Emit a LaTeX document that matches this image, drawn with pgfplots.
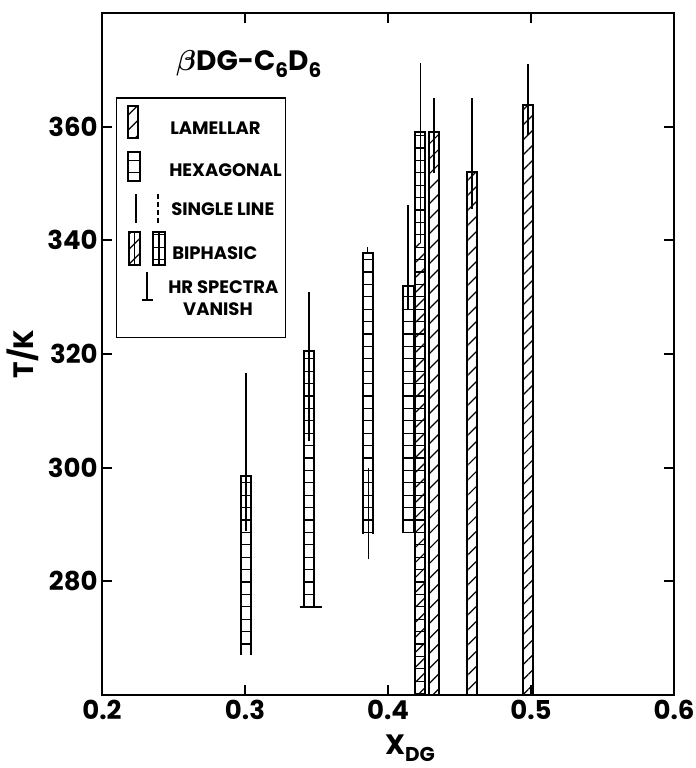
\documentclass[border=0pt]{standalone}
\usepackage{amsmath}
\usepackage{pgfplots}
\pgfplotsset{compat=1.18}
\usetikzlibrary{patterns.meta}
\usepackage{fontspec}
\setmainfont{Poppins}
\tikzset{
  lampat/.style={draw=none,pattern={Lines[angle=45,distance=5.3pt,line width=0.6pt]}},
  hexpat/.style={draw=none,pattern={Lines[angle=0,distance=6.2pt,line width=0.6pt]}},
  barline/.style={black,line width=1.0pt},
  sline/.style={black,line width=0.9pt},
}
% xl, xr, ybottom, ytop
\newcommand{\hexfill}[4]{\addplot[hexpat] coordinates {(#1,#3) (#2,#3) (#2,#4) (#1,#4)} -- cycle;}
\newcommand{\lamfill}[4]{\addplot[lampat] coordinates {(#1,#3) (#2,#3) (#2,#4) (#1,#4)} -- cycle;}
\newcommand{\openbar}[4]{\addplot[barline] coordinates {(#1,#3) (#1,#4) (#2,#4) (#2,#3)};}
\newcommand{\closedbar}[4]{\addplot[barline] coordinates {(#1,#3) (#2,#3) (#2,#4) (#1,#4)} -- cycle;}
% x, ybottom, ytop
\newcommand{\sline}[3]{\addplot[sline] coordinates {(#1,#2) (#1,#3)};}
\begin{document}
\begin{tikzpicture}
\useasboundingbox (-51pt,-36.5pt) rectangle (297pt,347.5pt);
\begin{axis}[
  at={(0pt,0pt)}, anchor=south west,
  scale only axis, width=286pt, height=341pt,
  xmin=0.2, xmax=0.6, ymin=260, ymax=380,
  xtick={0.2,0.3,0.4,0.5,0.6},
  xticklabels={0.2,0.3,0.4,0.5,0.6},
  ytick={280,300,320,340,360},
  yticklabels={280,300,320,340,360},
  tick align=inside,
  major tick length=5pt,
  axis line style={line width=1.2pt},
  tick style={line width=1pt, black},
  ticklabel style={font=\fontsize{13}{15}\selectfont\bfseries},
  xticklabel style={yshift=1pt},
  yticklabel style={inner sep=0pt, xshift=-2pt},
  xlabel={X\raisebox{-0.45ex}{\fontsize{10}{10}\selectfont\bfseries DG}},
  x label style={font=\fontsize{14}{16}\selectfont\bfseries, xshift=11pt, yshift=-0.5pt},
  ylabel={T/K},
  y label style={font=\fontsize{14}{16}\selectfont\bfseries, yshift=1pt},
]
% ---- bar A (x = 0.300), hexagonal
\hexfill{0.2970}{0.3040}{267.1}{298.5}
\openbar{0.2970}{0.3040}{267.1}{298.5}
\sline{0.3005}{288.8}{316.7}
% ---- bar B (x = 0.345), hexagonal, HR spectra vanish
\hexfill{0.3415}{0.3485}{275.5}{320.6}
\openbar{0.3415}{0.3485}{275.5}{320.6}
\addplot[black,line width=1.3pt] coordinates {(0.3382,275.5) (0.3536,275.5)};
\sline{0.3450}{304.7}{330.9}
% ---- bar C (x = 0.386), hexagonal
\hexfill{0.3822}{0.3892}{288.3}{337.8}
\openbar{0.3822}{0.3892}{288.3}{337.8}
\sline{0.3857}{337.8}{338.9}
\sline{0.3864}{283.9}{300.0}
% ---- bar D (x = 0.415), hexagonal
\hexfill{0.4108}{0.4185}{288.5}{332.0}
\openbar{0.4108}{0.4185}{288.5}{332.0}
\sline{0.4138}{327.7}{346.3}
% ---- bar E (x = 0.423), hexagonal + lamellar
\hexfill{0.4192}{0.4262}{260}{359.1}
\lamfill{0.4192}{0.4262}{260}{339.5}
\openbar{0.4192}{0.4262}{260}{359.1}
\sline{0.4227}{339.5}{371.2}
% ---- bar F (x = 0.432), lamellar
\lamfill{0.4285}{0.4360}{260}{359.1}
\openbar{0.4285}{0.4360}{260}{359.1}
\sline{0.4322}{351.9}{365.0}
% ---- bar G (x = 0.459), lamellar
\lamfill{0.4555}{0.4625}{260}{352.0}
\openbar{0.4555}{0.4625}{260}{352.0}
\sline{0.4590}{345.6}{365.0}
% ---- bar H (x = 0.498), lamellar
\lamfill{0.4946}{0.5016}{260}{363.8}
\openbar{0.4946}{0.5016}{260}{363.8}
\sline{0.4981}{358.5}{371.1}
% ---- title
\node[font=\fontsize{14}{16}\selectfont\bfseries] at (axis cs:0.3026,371.0)
  {$\boldsymbol{\beta}$DG-C\raisebox{-0.45ex}{\fontsize{10}{10}\selectfont\bfseries 6}D\raisebox{-0.45ex}{\fontsize{10}{10}\selectfont\bfseries 6}};
% ---- legend box
\addplot[black,line width=0.8pt] coordinates {(0.2102,365.0) (0.3282,365.0) (0.3282,322.9) (0.2102,322.9)} -- cycle;
% lamellar icon
\lamfill{0.2182}{0.2252}{358.0}{363.6}
\closedbar{0.2182}{0.2252}{358.0}{363.6}
% hexagonal icon
\hexfill{0.2182}{0.2266}{350.5}{355.6}
\closedbar{0.2182}{0.2266}{350.5}{355.6}
% single line icons
\sline{0.2235}{343.1}{348.1}
\addplot[black,line width=0.8pt,dash pattern=on 2.5pt off 1.5pt] coordinates {(0.2391,343.1) (0.2391,348.1)};
% biphasic icons
\lamfill{0.2189}{0.2266}{335.6}{341.4}
\closedbar{0.2189}{0.2266}{335.6}{341.4}
\sline{0.2228}{335.6}{341.4}
\hexfill{0.2356}{0.2440}{335.6}{341.4}
\closedbar{0.2356}{0.2440}{335.6}{341.4}
\sline{0.2398}{335.6}{341.4}
% HR spectra vanish icon
\sline{0.2312}{329.5}{334.4}
\addplot[black,line width=1.0pt] coordinates {(0.2277,329.5) (0.2359,329.5)};
% legend texts
\begin{scope}[every node/.style={font=\fontsize{9}{10}\selectfont\bfseries, anchor=west, inner sep=0pt}]
\node at (axis cs:0.2475,359.8) {LAMELLAR};
\node at (axis cs:0.2468,352.4) {HEXAGONAL};
\node at (axis cs:0.2482,345.4) {SINGLE LINE};
\node at (axis cs:0.2489,337.7) {BIPHASIC};
\node at (axis cs:0.2461,331.8) {HR SPECTRA};
\node[anchor=center] at (axis cs:0.2811,327.9) {VANISH};
\end{scope}
\end{axis}
\end{tikzpicture}
\end{document}
